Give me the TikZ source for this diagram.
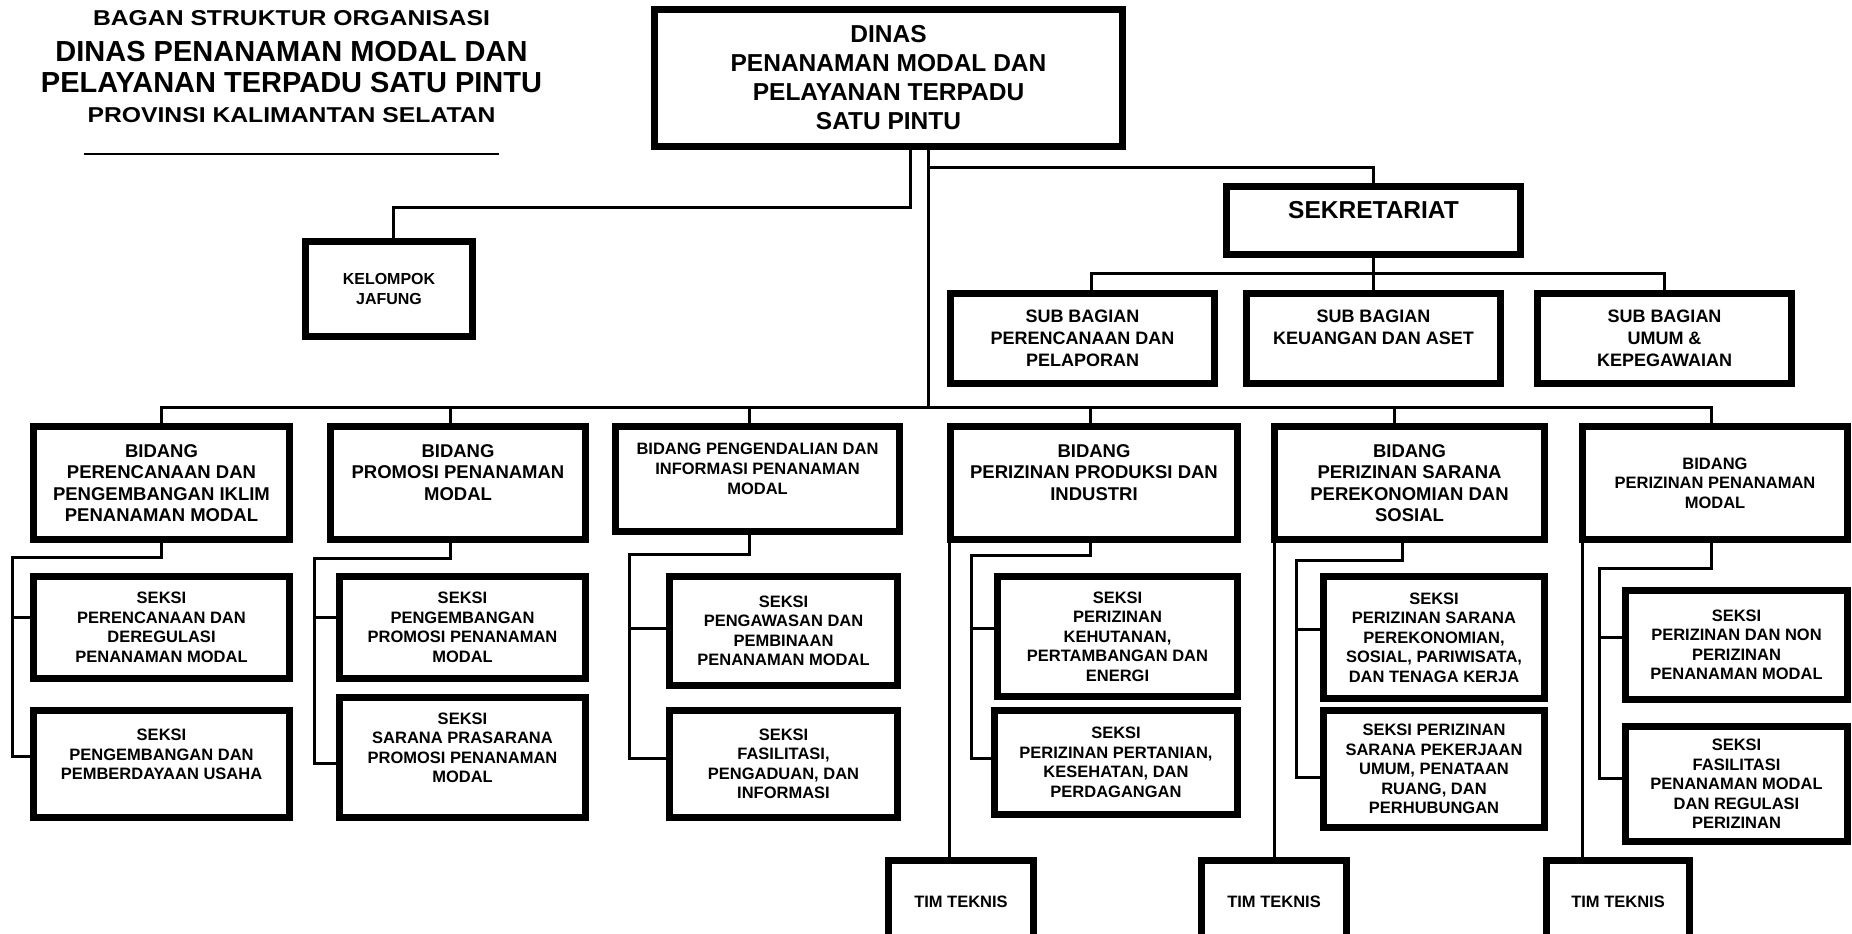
\documentclass[tikz,border=0pt]{standalone}
\usepackage{fontspec}
\setmainfont{Liberation Sans}
\newfontfamily\judullebar{Liberation Sans}[FakeStretch=1.15]
\usetikzlibrary{positioning}
\tikzset{%
  % Gaya kotak dan garis
          base/.style = {rectangle, draw=black, line width=7pt, inner sep=2pt,
                         align=center, font=\bfseries\fontsize{18.5}{21.5}\selectfont},
        kepala/.style = {base, minimum width=468pt, minimum height=137pt,
                         font=\bfseries\fontsize{24.5}{29}\selectfont},
     sekretbox/.style = {base, font=\bfseries\fontsize{24.5}{21}\selectfont},
        subbox/.style = {base, minimum height=90pt,
                         font=\bfseries\fontsize{18}{22}\selectfont},
     bidangbox/.style = {base, minimum height=113pt},
      seksibox/.style = {base, font=\bfseries\fontsize{16.5}{19.5}\selectfont},
        timbox/.style = {base, minimum width=145pt, minimum height=83pt,
                         font=\bfseries\fontsize{16.5}{19.5}\selectfont},
         judul/.style = {inner sep=0pt, font=\bfseries\fontsize{29}{33}\selectfont},
         garis/.style = {line width=3pt},
}

\begin{document}
\begin{tikzpicture}[x=1pt, y=1pt]
  \useasboundingbox (0,0) rectangle (1852,-934);
  \clip (0,0) rectangle (1852,-934);
  % Judul bagan
  \node (judul1) [judul, font=\judullebar\bfseries\fontsize{21.5}{25}\selectfont] at (291.5,-18) {BAGAN STRUKTUR ORGANISASI};
  \node (judul2) [judul] at (291.5,-52) {DINAS PENANAMAN MODAL DAN};
  \node (judul3) [judul] at (291.5,-83) {PELAYANAN TERPADU SATU PINTU};
  \node (judul4) [judul, font=\judullebar\bfseries\fontsize{21.5}{25}\selectfont] at (291.5,-115) {PROVINSI KALIMANTAN SELATAN};
  \draw[line width=2.5pt] ([xshift=-207.5pt,yshift=-39pt]judul4.center) -- ([xshift=207.5pt,yshift=-39pt]judul4.center);
  % Kepala dinas, jafung dan sekretariat
  \node (dinas) [kepala] at (888.5,-78) {DINAS\\PENANAMAN MODAL DAN\\PELAYANAN TERPADU\\SATU PINTU};
  \node (jafung) [base, minimum width=167pt, minimum height=95pt, font=\bfseries\fontsize{16}{20}\selectfont,
                  below left=88pt and 175pt of dinas] {KELOMPOK\\JAFUNG};
  \node (sekret) [sekretbox, minimum width=294pt, minimum height=68pt, below right=33pt and 97pt of dinas] {SEKRETARIAT\\\mbox{}};
  \node (sub2) [subbox, minimum width=254pt, below=32pt of sekret] {SUB BAGIAN\\KEUANGAN DAN ASET\\\mbox{}};
  \node (sub1) [subbox, minimum width=264pt, left=25pt of sub2] {SUB BAGIAN\\PERENCANAAN DAN\\PELAPORAN};
  \node (sub3) [subbox, minimum width=254pt, right=30pt of sub2] {SUB BAGIAN\\UMUM \&\\KEPEGAWAIAN};
  % Bidang
  \node (bid1) [bidangbox, minimum width=256pt, anchor=north west] at (30,-423) {BIDANG\\PERENCANAAN DAN\\PENGEMBANGAN IKLIM\\PENANAMAN MODAL};
  \node (bid2) [bidangbox, minimum width=255pt, right=34pt of bid1] {BIDANG\\PROMOSI PENANAMAN\\MODAL\\\mbox{}};
  \node (bid3) [bidangbox, minimum width=284pt, minimum height=105pt, font=\bfseries\fontsize{16.5}{20}\selectfont,
                right=23pt of bid2.north east, anchor=north west] {BIDANG PENGENDALIAN DAN\\INFORMASI PENANAMAN\\MODAL\\\mbox{}};
  \node (bid4) [bidangbox, minimum width=287pt, right=44pt of bid3.north east, anchor=north west] {BIDANG\\PERIZINAN PRODUKSI DAN\\INDUSTRI\\\mbox{}};
  \node (bid5) [bidangbox, minimum width=270pt, right=30pt of bid4] {BIDANG\\PERIZINAN SARANA\\PEREKONOMIAN DAN\\SOSIAL};
  \node (bid6) [bidangbox, minimum width=265pt, font=\bfseries\fontsize{16.5}{19.5}\selectfont, right=31pt of bid5] {BIDANG\\PERIZINAN PENANAMAN\\MODAL};
  % Seksi
  \node (seksi1a) [seksibox, minimum width=256pt, minimum height=102pt, below=30pt of bid1] {SEKSI\\PERENCANAAN DAN\\DEREGULASI\\PENANAMAN MODAL};
  \node (seksi1b) [seksibox, minimum width=256pt, minimum height=107pt, below=25pt of seksi1a] {SEKSI\\PENGEMBANGAN DAN\\PEMBERDAYAAN USAHA\\\mbox{}};
  \node (seksi2a) [seksibox, minimum width=246pt, minimum height=102pt, below=30pt of bid2, xshift=4.5pt] {SEKSI\\PENGEMBANGAN\\PROMOSI PENANAMAN\\MODAL};
  \node (seksi2b) [seksibox, minimum width=246pt, minimum height=120pt, below=12pt of seksi2a] {SEKSI\\SARANA PRASARANA\\PROMOSI PENANAMAN\\MODAL\\\mbox{}};
  \node (seksi3a) [seksibox, minimum width=228pt, minimum height=109pt, below=38pt of bid3, xshift=26pt] {SEKSI\\PENGAWASAN DAN\\PEMBINAAN\\PENANAMAN MODAL};
  \node (seksi3b) [seksibox, minimum width=228pt, minimum height=107pt, below=18pt of seksi3a] {SEKSI\\FASILITASI,\\PENGADUAN, DAN\\INFORMASI};
  \node (seksi4a) [seksibox, minimum width=240pt, minimum height=120pt, below=30pt of bid4, xshift=23.5pt] {SEKSI\\PERIZINAN\\KEHUTANAN,\\PERTAMBANGAN DAN\\ENERGI};
  \node (seksi4b) [seksibox, minimum width=243pt, minimum height=104pt, below=7pt of seksi4a, xshift=-1.5pt] {SEKSI\\PERIZINAN PERTANIAN,\\KESEHATAN, DAN\\PERDAGANGAN};
  \node (seksi5a) [seksibox, minimum width=221pt, minimum height=122pt, below=30pt of bid5, xshift=24.5pt] {SEKSI\\PERIZINAN SARANA\\PEREKONOMIAN,\\SOSIAL, PARIWISATA,\\DAN TENAGA KERJA};
  \node (seksi5b) [seksibox, minimum width=221pt, minimum height=117pt, below=5pt of seksi5a] {SEKSI PERIZINAN\\SARANA PEKERJAAN\\UMUM, PENATAAN\\RUANG, DAN\\PERHUBUNGAN};
  \node (seksi6a) [seksibox, minimum width=222pt, minimum height=109pt, below=44pt of bid6, xshift=21.5pt] {SEKSI\\PERIZINAN DAN NON\\PERIZINAN\\PENANAMAN MODAL};
  \node (seksi6b) [seksibox, minimum width=222pt, minimum height=115pt, below=20pt of seksi6a] {SEKSI\\FASILITASI\\PENANAMAN MODAL\\DAN REGULASI\\PERIZINAN};
  % Tim teknis
  \node (tim1) [timbox, below=39pt of seksi4b, xshift=-155pt] {TIM TEKNIS};
  \node (tim2) [timbox, below=26pt of seksi5b, xshift=-160pt] {TIM TEKNIS};
  \node (tim3) [timbox, minimum width=143pt, below=12pt of seksi6b, xshift=-118.5pt] {TIM TEKNIS};
  % Garis penghubung
  \draw[garis] ([xshift=21.5pt]dinas.south) -- ++(0,-57) -| ([xshift=4pt]jafung.north);
  \draw[garis] ([xshift=39.5pt]dinas.south) -- ++(0,-257);
  \draw[garis] ([xshift=39.5pt,yshift=-17pt]dinas.south) -| (sekret.north);
  \draw[garis] (sekret.south) -- (sub2.north);
  \draw[garis] ([xshift=8.5pt]sub1.north) -- ++(0,17) -| (sub3.north);
  \draw[garis] (bid1.north) -- ++(0,16) -| ([xshift=-4pt]bid6.north);
  \draw[garis] ([xshift=-8pt]bid2.north) -- ++(0,16);
  \draw[garis] ([xshift=-8.5pt]bid3.north) -- ++(0,16);
  \draw[garis] ([xshift=-4pt]bid4.north) -- ++(0,16);
  \draw[garis] ([xshift=-15.5pt]bid5.north) -- ++(0,16);
  % bidang ke seksi
  \draw[garis] (bid1.south) -- ++(0,-14) -| ([xshift=-18pt,yshift=8pt]seksi1b.west) -- ([yshift=8pt]seksi1b.west);
  \draw[garis] ([xshift=-18pt,yshift=10.5pt]seksi1a.west) -- ([yshift=10.5pt]seksi1a.west);
  \draw[garis] ([xshift=-8pt]bid2.south) -- ++(0,-15) -| ([xshift=-22pt,yshift=-5.5pt]seksi2b.west) -- ([yshift=-5.5pt]seksi2b.west);
  \draw[garis] ([xshift=-22pt,yshift=10.5pt]seksi2a.west) -- ([yshift=10.5pt]seksi2a.west);
  \draw[garis] ([xshift=-8.5pt]bid3.south) -- ++(0,-19) -| ([xshift=-37pt,yshift=6pt]seksi3b.west) -- ([yshift=6pt]seksi3b.west);
  \draw[garis] ([xshift=-37pt,yshift=3pt]seksi3a.west) -- ([yshift=3pt]seksi3a.west);
  \draw[garis] ([xshift=-4pt]bid4.south) -- ++(0,-12) -| ([xshift=-20pt,yshift=4.5pt]seksi4b.west) -- ([yshift=4.5pt]seksi4b.west);
  \draw[garis] ([xshift=-23pt,yshift=8.5pt]seksi4a.west) -- ([yshift=8.5pt]seksi4a.west);
  \draw[garis] ([xshift=-7.5pt]bid5.south) -- ++(0,-17) -| ([xshift=-24pt,yshift=-8pt]seksi5b.west) -- ([yshift=-8pt]seksi5b.west);
  \draw[garis] ([xshift=-24pt,yshift=8.5pt]seksi5a.west) -- ([yshift=8.5pt]seksi5a.west);
  \draw[garis] ([xshift=-4pt]bid6.south) -- ++(0,-25) -| ([xshift=-23pt,yshift=6pt]seksi6b.west) -- ([yshift=6pt]seksi6b.west);
  \draw[garis] ([xshift=-23pt,yshift=8pt]seksi6a.west) -- ([yshift=8pt]seksi6a.west);
  % bidang ke tim teknis
  \draw[garis] ([xshift=2pt]bid4.south west) -- ([xshift=2pt]bid4.south west |- tim1.north);
  \draw[garis] ([xshift=3pt]bid5.south west) -- ([xshift=3pt]bid5.south west |- tim2.north);
  \draw[garis] ([xshift=3pt]bid6.south west) -- ([xshift=3pt]bid6.south west |- tim3.north);
\end{tikzpicture}
\end{document}
